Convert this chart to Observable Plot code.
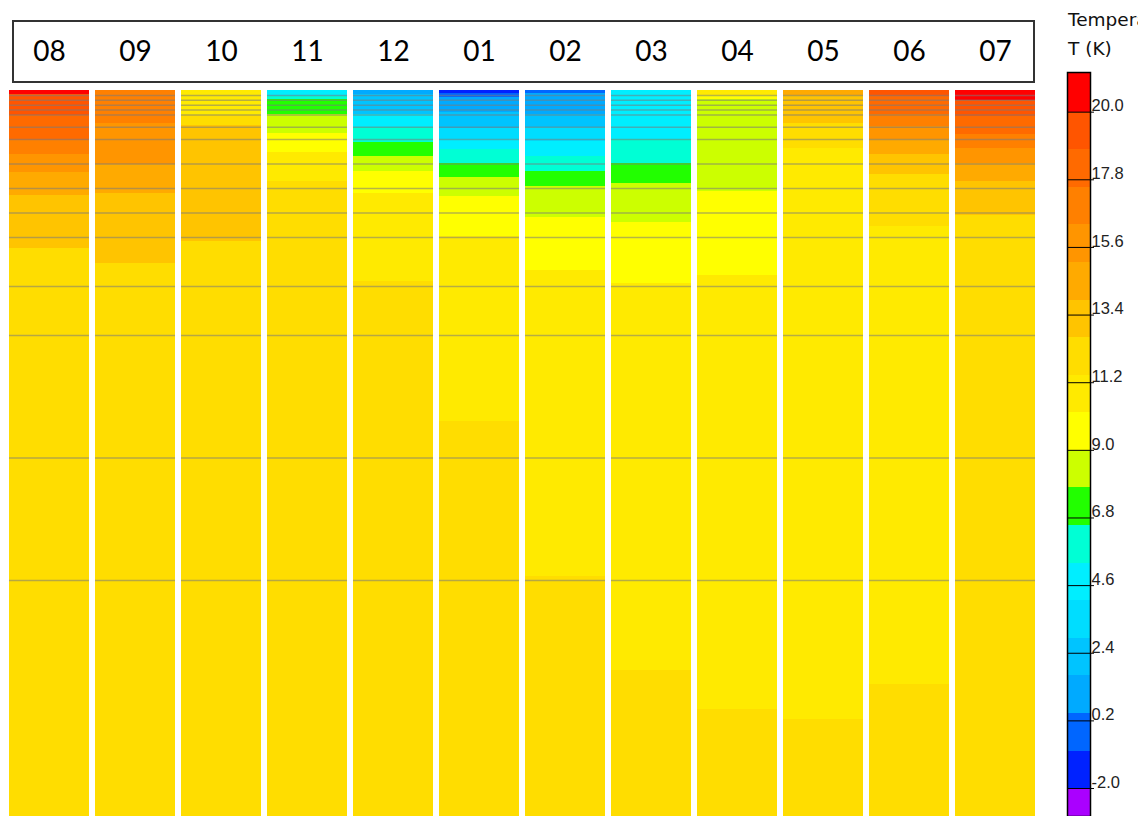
<!DOCTYPE html>
<html><head><meta charset="utf-8">
<script src="https://cdn.jsdelivr.net/npm/d3@7"></script>
<script src="https://cdn.jsdelivr.net/npm/@observablehq/plot@0.6"></script>
<style>
html,body{margin:0;padding:0;background:#fff;}
body{width:1138px;height:816px;overflow:hidden;position:relative;font-family:"Liberation Sans",Arial,sans-serif;}
#chart{position:absolute;left:0;top:0;}
#legend{position:absolute;left:1060px;top:0;}
#box{position:absolute;left:12px;top:20px;width:1023px;height:63px;box-sizing:border-box;border:2px solid #333;}
#ltitle{position:absolute;left:1068px;top:5px;font-family:"DejaVu Sans",sans-serif;font-size:18.5px;line-height:29px;white-space:nowrap;color:#111;}
</style></head><body>
<div id="chart"></div><div id="legend"></div><div id="box"></div>
<div id="ltitle">Temperature<br>T (K)</div>
<script>
// Months (columns)
const months = ["08","09","10","11","12","01","02","03","04","05","06","07"];
// Model layer interfaces (depth, m)
const layerDepths = [0.5,1,1.5,2,2.5,3.75,5,7.5,10,12.5,15,20,25,37.5,50];
const bottomDepth = 75;
// Temperature profiles: [top depth of band (m), temperature]
const m08 = [[0,20.5],[0.44,19.4],[2.58,18.2],[5.1,16.9],[6.56,15.7],[8.37,14.5],[10.7,13.3],[16.1,12.0]];
const m09 = [[0,16.9],[3.34,15.7],[7.58,14.5],[10.54,13.3],[17.65,12.0]];
const m10 = [[0,10.8],[2.55,12.0],[3.6,13.3],[15.4,12.0]];
const m11 = [[0,4.7],[0.6,5.9],[0.9,7.2],[2.45,8.4],[4.35,9.6],[6.3,10.8],[9.3,12.0]];
const m12 = [[0,1.0],[0.4,2.3],[2.45,4.7],[3.8,5.9],[5.35,7.2],[6.75,8.4],[8.25,9.6],[10.5,10.8],[19.5,12.0]];
const m01 = [[0,-1.4],[0.3,-0.2],[0.75,1.0],[2.25,2.3],[3.9,3.5],[5.05,4.7],[6.05,5.9],[7.45,7.2],[8.85,8.4],[10.8,9.6],[14.95,10.8],[33.8,12.0]];
const m02 = [[0,-0.2],[0.28,1.0],[2.45,2.3],[3.8,3.5],[5.25,4.7],[6.75,5.9],[8.25,7.2],[9.75,8.4],[12.98,9.6],[18.4,10.8],[49.6,12.0]];
const m03 = [[0,4.7],[5.03,5.9],[7.42,7.2],[9.52,8.4],[13.47,9.6],[19.7,10.8],[59.2,12.0]];
const m04 = [[0,10.8],[0.5,9.6],[0.87,8.4],[10.3,9.6],[18.9,10.8],[63.2,12.0]];
const m05 = [[0,14.5],[0.5,13.3],[3.37,12.0],[5.87,10.8],[64.2,12.0]];
const m06 = [[0,19.4],[0.6,18.2],[2.48,16.9],[3.67,15.7],[5.05,14.5],[6.58,13.3],[8.57,12.0],[13.93,10.8],[60.6,12.0]];
const m07 = [[0,20.5],[1.02,19.4],[2.7,18.2],[4.49,16.9],[5.92,15.7],[7.45,14.5],[9.29,13.3],[12.8,12.0]];
const profiles = [m08,m09,m10,m11,m12,m01,m02,m03,m04,m05,m06,m07];
// Colour classes
const thresholds = [-2.0,-0.78,0.44,1.67,2.89,4.11,5.33,6.56,7.78,9.0,10.22,11.44,12.67,13.89,15.11,16.33,17.56,18.78,20.0];
const palette = ["#AA00FF","#0022FF","#0066FF","#00AAFF","#00C4FF","#00DDFF","#00EEFF","#00FFD5","#22FF00","#CCFF00",
                 "#FFFF00","#FFEA00","#FFDD00","#FFC400","#FFAA00","#FF9500","#FF8000","#FF6A00","#FF5500","#FF0000"];
const legendTicks = [20.0,17.8,15.6,13.4,11.2,9.0,6.8,4.6,2.4,0.2,-2.0];
const legendRange = [-2.91, 21.29];

const colorOpts = {type:"threshold", domain: thresholds, range: palette};

const bands = [];
months.forEach((m,i) => {
  const p = profiles[i];
  p.forEach((b,j) => bands.push({month:m, top:b[0], bottom: j+1<p.length ? p[j+1][0] : bottomDepth, temp:b[1]}));
});
const gridLines = months.flatMap(m => layerDepths.map(d => ({month:m, depth:d})));

const chart = Plot.plot({
  width: 1040, height: 816,
  marginTop: 90, marginBottom: 0, marginLeft: 8, marginRight: 5,
  style: {background:"transparent", overflow:"visible"},
  x: {type:"band", domain: months, paddingInner: 0.07, paddingOuter: 0, axis: null},
  y: {domain:[0, 74.1], reverse: true, axis: null},
  color: colorOpts,
  marks: [
    Plot.barY(bands, {x:"month", y1:"top", y2:"bottom", fill:"temp", clip:true, shapeRendering:"crispEdges"}),
    Plot.tickY(gridLines, {x:"month", y:"depth", stroke:"#7a7a7a", strokeOpacity:0.55, strokeWidth:1.5}),
    Plot.text(months, {x: d => d, frameAnchor:"top", dy:-49, fontSize:28, fontFamily:"Lato", fill:"#000"})
  ]
});
document.getElementById("chart").appendChild(chart);

const edges = [legendRange[0], ...thresholds, legendRange[1]];
const legendBands = edges.slice(0,-1).map((lo,i) => ({lo, hi: edges[i+1], mid:(lo+edges[i+1])/2}));

const legend = Plot.plot({
  width: 78, height: 816,
  marginTop: 72, marginBottom: 0, marginLeft: 7, marginRight: 48,
  style: {background:"transparent", overflow:"visible"},
  x: {domain:[0,1], axis:null},
  y: {domain: legendRange, axis:null},
  color: colorOpts,
  marks: [
    Plot.rect(legendBands, {x1:0, x2:1, y1:"lo", y2:"hi", fill:"mid", shapeRendering:"crispEdges"}),
    Plot.ruleY(legendTicks, {stroke:"#000", strokeWidth:1}),
    Plot.axisY(legendTicks, {anchor:"right", tickSize:3, tickFormat: () => "", stroke:"#000"}),
    Plot.text(legendTicks, {y: d => d, frameAnchor:"right", dx:1, dy:-6, textAnchor:"start", text: d => d.toFixed(1),
      fontSize:16.5, fontFamily:"Liberation Sans", fill:"#222"}),
    Plot.frame({stroke:"#000", strokeWidth:1.5})
  ]
});
document.getElementById("legend").appendChild(legend);
</script></body></html>
